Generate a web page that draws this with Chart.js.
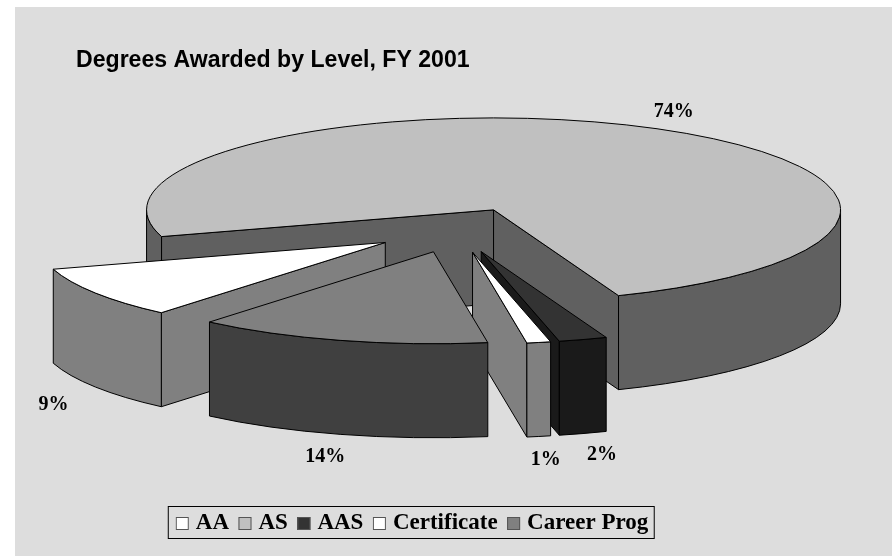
<!DOCTYPE html>
<html>
<head>
<meta charset="utf-8">
<style>html,body{margin:0;padding:0;background:#fff}#wrap{width:892px;height:556px}</style>
<script src="https://cdn.jsdelivr.net/npm/chart.js@4/dist/chart.umd.js"></script>
</head>
<body>
<div id="wrap"><canvas id="c" width="892" height="556"></canvas></div>
<script>
const categories = ['AA', 'AS', 'AAS', 'Certificate', 'Career Prog'];
const percentValues = [9.14, 73.83, 2.25, 1.11, 13.67];
const sliceColors = ['#ffffff', '#c0c0c0', '#333333', '#ffffff', '#808080'];
const wallColors = ['#808080', '#606060', '#1a1a1a', '#808080', '#404040'];

const TILT = 0.265, DEPTH = 94, EXPLODE = 85, RADIUS = 347;
const PIE_X = 456.3, PIE_Y = 230.1;
const PAINT_ORDER = [1, 2, 3, 0, 4];
const LABEL_NUDGE = [[-42, 18], [28, -15], [19, 21], [7, 23], [-15, 22]];

const bgPlugin = {
  id: 'panel',
  beforeDraw(chart) {
    const ctx = chart.ctx;
    ctx.save();
    ctx.fillStyle = '#dddddd';
    ctx.fillRect(15, 7, 877, 549);
    ctx.restore();
  }
};

const pie3d = {
  id: 'pie3d',
  beforeDatasetDraw(chart, args) {
    const ctx = chart.ctx;
    const arcs = chart.getDatasetMeta(args.index).data;
    const wall = (poly, color) => {
      ctx.beginPath();
      poly();
      ctx.closePath();
      ctx.fillStyle = color;
      ctx.fill();
      ctx.lineWidth = 1;
      ctx.strokeStyle = '#000';
      ctx.stroke();
    };
    PAINT_ORDER.forEach(i => {
      const arc = arcs[i];
      const p = arc.getProps(['x', 'y', 'startAngle', 'endAngle', 'outerRadius'], true);
      const mid = (p.startAngle + p.endAngle) / 2, R = p.outerRadius;
      const ex = PIE_X + Math.cos(mid) * EXPLODE;
      const ey = PIE_Y + Math.sin(mid) * EXPLODE * TILT;
      const pt = t => [ex + Math.cos(t) * R, ey + Math.sin(t) * R * TILT];
      const arcPath = (a, b, dy, ccw) => ctx.ellipse(ex, ey + dy, R, R * TILT, 0, a, b, ccw);

      // radial cut faces that look toward the viewer
      [[p.startAngle, -Math.PI / 2], [p.endAngle, Math.PI / 2]].forEach(([t, n]) => {
        if (Math.sin(t + n) > 0) {
          const q = pt(t);
          wall(() => {
            ctx.moveTo(ex, ey);
            ctx.lineTo(q[0], q[1]);
            ctx.lineTo(q[0], q[1] + DEPTH);
            ctx.lineTo(ex, ey + DEPTH);
          }, wallColors[i]);
        }
      });
      // outer rim: only the part on the front half (sin t > 0)
      const twoPi = Math.PI * 2;
      for (let k = -1; k <= 2; k++) {
        const a = Math.max(p.startAngle, k * twoPi), b = Math.min(p.endAngle, k * twoPi + Math.PI);
        if (b > a) {
          wall(() => {
            arcPath(a, b, 0, false);
            arcPath(b, a, DEPTH, true);
          }, wallColors[i]);
        }
      }
      // top face: the library's own arc, squashed
      ctx.save();
      ctx.translate(ex, ey);
      ctx.scale(1, TILT);
      ctx.translate(-p.x, -p.y);
      arc.draw(ctx);
      ctx.restore();
      ctx.beginPath();
      ctx.moveTo(ex, ey);
      arcPath(p.startAngle, p.endAngle, 0, false);
      ctx.closePath();
      ctx.lineWidth = 1;
      ctx.strokeStyle = '#000';
      ctx.stroke();
    });
    // percent labels
    ctx.save();
    ctx.font = 'bold 20px "Liberation Serif"';
    ctx.fillStyle = '#000';
    ctx.textAlign = 'center';
    ctx.textBaseline = 'middle';
    arcs.forEach((arc, i) => {
      const p = arc.getProps(['startAngle', 'endAngle', 'outerRadius'], true);
      const mid = (p.startAngle + p.endAngle) / 2, R = p.outerRadius;
      const ex = PIE_X + Math.cos(mid) * EXPLODE;
      const ey = PIE_Y + Math.sin(mid) * EXPLODE * TILT;
      const front = Math.sin(mid) > 0 ? DEPTH : 0;
      ctx.fillText(Math.round(percentValues[i]) + '%',
        ex + Math.cos(mid) * R + LABEL_NUDGE[i][0],
        ey + Math.sin(mid) * R * TILT + front + LABEL_NUDGE[i][1]);
    });
    ctx.restore();
    return false;
  },
  afterDraw(chart) {
    const boxes = chart.legend.legendHitBoxes;
    if (!boxes.length) return;
    const first = boxes[0], last = boxes[boxes.length - 1];
    const ctx = chart.ctx;
    ctx.save();
    ctx.lineWidth = 1;
    ctx.strokeStyle = '#000';
    ctx.strokeRect(first.left - 7.5, first.top - 5.5, last.left + last.width + 6 - first.left + 7.5, 32);
    // full-size legend swatches over the library's narrow keys
    boxes.forEach((b, i) => {
      ctx.fillStyle = sliceColors[i];
      ctx.strokeStyle = '#555';
      ctx.fillRect(b.left, b.top + 5, 13, 13);
      ctx.strokeRect(b.left + 0.5, b.top + 5.5, 12, 12);
    });
    ctx.restore();
  }
};

new Chart(document.getElementById('c'), {
  type: 'pie',
  data: {
    labels: categories,
    datasets: [{
      data: percentValues,
      backgroundColor: sliceColors,
      borderWidth: 0,
      clip: false
    }]
  },
  plugins: [bgPlugin, pie3d],
  options: {
    responsive: false,
    animation: false,
    rotation: 220.2,
    radius: RADIUS,
    layout: { padding: { left: 76, right: 144, top: 0, bottom: 11 } },
    plugins: {
      tooltip: { enabled: false },
      title: {
        display: true,
        text: 'Degrees Awarded by Level, FY 2001',
        align: 'start',
        color: '#000',
        font: { family: '"Liberation Sans"', size: 23.1, weight: 'bold' },
        padding: { top: 46.5, bottom: 10 }
      },
      legend: {
        position: 'bottom',
        labels: {
          color: '#000',
          font: { family: '"Liberation Serif"', size: 23, weight: 'bold' },
          boxWidth: 8.5,
          boxHeight: 13,
          padding: 9.5,
          generateLabels(chart) {
            return categories.map((t, i) => ({
              text: t, fillStyle: sliceColors[i], strokeStyle: '#555', lineWidth: 0, index: i
            }));
          }
        }
      }
    }
  }
});
</script>
</body>
</html>
